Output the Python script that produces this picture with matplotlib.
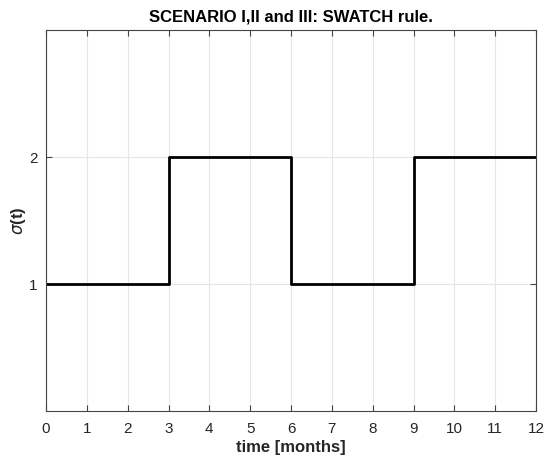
import matplotlib
matplotlib.use("Agg")
import matplotlib.pyplot as plt

# switching times [months] and sigma levels
t_switch = [0, 3, 6, 9, 12]
sigma = [1, 2, 1, 2, 2]
x_ticks = list(range(0, 13))
y_ticks = [1, 2]

plt.rcParams['font.family'] = ['Liberation Sans', 'DejaVu Sans']

fig = plt.figure(figsize=(5.47, 4.66), dpi=100)
ax = fig.add_axes([0.0841, 0.118, 0.8959, 0.8176])

ax.plot(t_switch, sigma, drawstyle='steps-post', color='black', linewidth=2)

ax.set_xlim(0, 12)
ax.set_ylim(0, 3)
ax.set_xticks(x_ticks)
ax.set_yticks(y_ticks)
ax.grid(True, color='#e6e6e6', linewidth=0.8)
ax.set_axisbelow(True)
ax.tick_params(direction='in', length=4, color='#444444', labelsize=11,
               labelcolor='#262626', top=True, right=True)
ax.tick_params(axis='x', pad=8)
ax.tick_params(axis='y', pad=6)
for s in ax.spines.values():
    s.set_color('#444444')
    s.set_linewidth(0.8)

ax.set_xlabel('time [months]', fontsize=12, fontweight='bold', color='#262626',
              labelpad=3)
ax.set_ylabel(r'$\sigma$(t)', fontsize=12, fontweight='bold', color='#262626')
ax.yaxis.set_label_coords(-0.036, 0.5)
ax.set_title('SCENARIO I,II and III: SWATCH rule.', fontsize=12,
             fontweight='bold', color='black', pad=6)

fig.savefig('out.png', dpi=100)
